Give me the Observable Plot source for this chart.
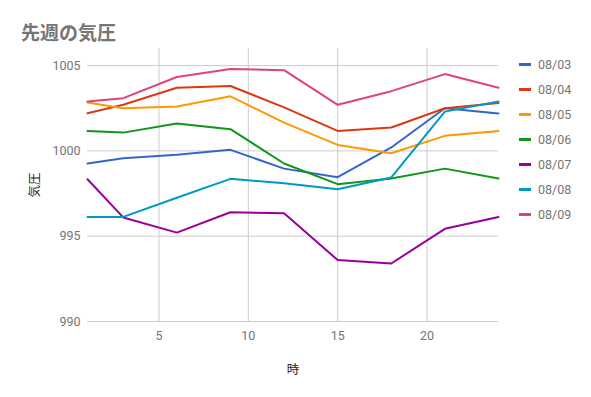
<!DOCTYPE html>
<html><head><meta charset="utf-8">
<script src="https://cdn.jsdelivr.net/npm/d3@7"></script>
<script src="https://cdn.jsdelivr.net/npm/@observablehq/plot@0.6"></script>
<style>
body{margin:0;background:#fff;font-family:Roboto,"Noto Sans CJK JP",sans-serif;}
#wrap{position:relative;width:591px;height:397px;}
#title{position:absolute;left:21px;top:19px;font-size:19px;font-weight:bold;color:#757575;font-family:"Noto Sans CJK JP",sans-serif;line-height:26px;}
#legend{position:absolute;left:519px;top:52px;font-size:12px;color:#222;}
.item{height:25px;display:flex;align-items:center;line-height:16px;}
.sw{width:12px;height:3px;margin-right:7px;}
.lab{color:#757575;font-size:12.5px}
</style></head>
<body><div id="wrap"><div id="title">先週の気圧</div><div id="legend"></div></div>
<script>
const hours = [1, 3, 6, 9, 12, 15, 18, 21, 24];
const dates = ["08/03","08/04","08/05","08/06","08/07","08/08","08/09"];
const colors = ["#3366cc","#dc3912","#ff9900","#109618","#990099","#0099c6","#dd4477"];
const p0803 = [999.26, 999.57, 999.77, 1000.06, 998.96, 998.46, 1000.2, 1002.5, 1002.19];
const p0804 = [1002.2, 1002.7, 1003.7, 1003.8, 1002.55, 1001.17, 1001.37, 1002.5, 1002.8];
const p0805 = [1002.83, 1002.5, 1002.6, 1003.2, 1001.66, 1000.35, 999.86, 1000.88, 1001.17];
const p0806 = [1001.17, 1001.07, 1001.6, 1001.27, 999.26, 998.05, 998.38, 998.96, 998.38];
const p0807 = [998.34, 996.1, 995.21, 996.4, 996.35, 993.6, 993.4, 995.43, 996.13];
const p0808 = [996.13, 996.13, 997.25, 998.36, 998.1, 997.75, 998.44, 1002.3, 1002.9];
const p0809 = [1002.89, 1003.09, 1004.33, 1004.8, 1004.73, 1002.7, 1003.5, 1004.5, 1003.7];
const xTicks = [5, 10, 15, 20];
const yTicks = [990, 995, 1000, 1005];

const series = [p0803, p0804, p0805, p0806, p0807, p0808, p0809];
const rows = [];
series.forEach((vals, i) => vals.forEach((v, j) => rows.push({date: dates[i], hour: hours[j], p: v})));

const chart = Plot.plot({
  width: 591, height: 397,
  marginLeft: 87, marginRight: 93, marginTop: 48, marginBottom: 76,
  style: {fontFamily: 'Roboto, "Noto Sans CJK JP", sans-serif', fontSize: "12.5px", color: "#757575"},
  x: {domain: [1, 24]},
  y: {domain: [990, 1006]},
  color: {domain: dates, range: colors},
  marks: [
    Plot.gridX(xTicks, {stroke: "#ccc", strokeOpacity: 1}),
    Plot.gridY(yTicks, {stroke: "#ccc", strokeOpacity: 1}),
    Plot.line(rows, {x: "hour", y: "p", z: "date", stroke: "date", strokeWidth: 2}),
    Plot.axisX({ticks: xTicks, tickFormat: "d", tickSize: 0, tickPadding: 10, label: "時", labelAnchor: "center", labelArrow: "none", labelOffset: 52, fill: "#757575"}),
    Plot.axisY({ticks: yTicks, tickFormat: "d", tickSize: 0, tickPadding: 7, label: "気圧", labelAnchor: "center", labelArrow: "none", labelOffset: 57, fill: "#757575"})
  ]
});
chart.querySelectorAll("[aria-label$='axis label']").forEach(n => n.setAttribute("fill", "#222"));
document.getElementById("wrap").prepend(chart);
const leg = document.getElementById("legend");
dates.forEach((d, i) => {
  const it = document.createElement("div"); it.className = "item";
  it.innerHTML = `<div class="sw" style="background:${colors[i]}"></div><span class="lab">${d}</span>`;
  leg.appendChild(it);
});
</script></body></html>
